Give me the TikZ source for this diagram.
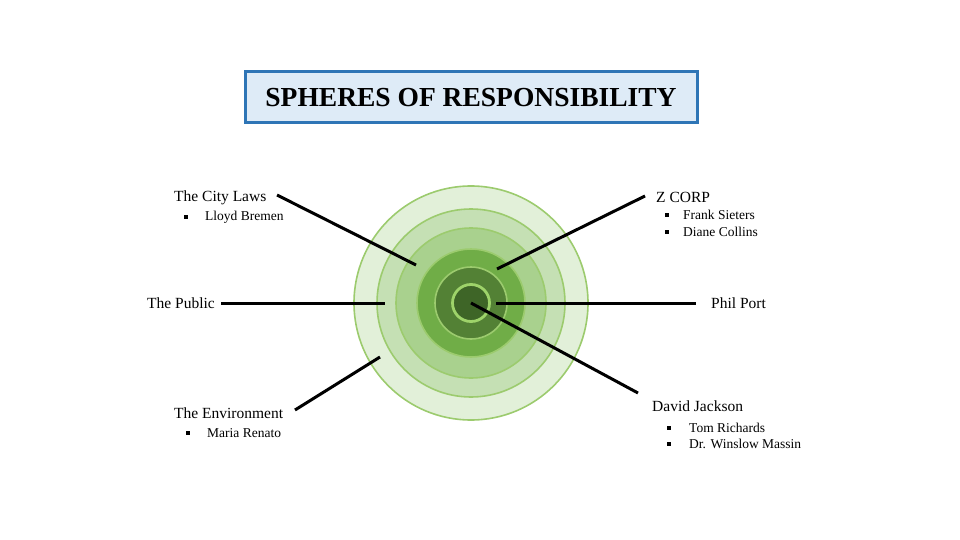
\documentclass[tikz,border=0pt]{standalone}
\usepackage{fontspec}
\setmainfont{Liberation Serif}
\definecolor{titleblue}{HTML}{2E75B6}
\definecolor{titlefill}{HTML}{DEEBF7}
\definecolor{gA}{HTML}{E2F0D9}
\definecolor{gB}{HTML}{C5E0B4}
\definecolor{gC}{HTML}{A9D18E}
\definecolor{gD}{HTML}{70AD47}
\definecolor{gE}{HTML}{538135}
\definecolor{gF}{HTML}{3E6527}
\definecolor{ringline}{HTML}{9CCB6E}
\definecolor{innerring}{HTML}{9ED36A}
\begin{document}
\begin{tikzpicture}[x=1pt,y=-1pt,
  label/.style={anchor=west,inner sep=0pt,font=\fontsize{15.5}{18}\selectfont},
  item/.style={anchor=west,inner sep=0pt,font=\fontsize{13.5}{16}\selectfont},
  connector/.style={draw=black,line width=3pt},
  ring/.style={draw=ringline,line width=1.6pt}]
\useasboundingbox (0,0) rectangle (960,540);
% title
\node[draw=titleblue,line width=3pt,fill=titlefill,minimum width=452pt,minimum height=51pt,inner sep=0pt,
  font=\fontsize{27.5}{30}\selectfont\bfseries] (title) at (471,97.5) {SPHERES OF RESPONSIBILITY};
% concentric circles
\coordinate (c) at (471,303);
\filldraw[ring,fill=gA] (c) circle (117);
\filldraw[ring,fill=gB] (c) circle (94);
\filldraw[ring,fill=gC] (c) circle (75);
\filldraw[ring,fill=gD] (c) circle (54);
\filldraw[ring,fill=gE] (c) circle (36);
\filldraw[draw=innerring,line width=2.8pt,fill=gF] (c) circle (18.5);
% labels
\node[label] (city) at (174,198) {The City Laws};
\node[item] (lloyd) at (205,217) {Lloyd Bremen};
\node[label] (public) at (147,303) {The Public};
\node[label] (env) at (174,413) {The Environment};
\node[item] (maria) at (207,433) {Maria Renato};
\node[label] (zcorp) at (656,197) {Z CORP};
\node[item] (frank) at (683,215) {Frank Sieters};
\node[item] (diane) at (683,232) {Diane Collins};
\node[label] (phil) at (711,303) {Phil Port};
\node[label] (david) at (652,406) {David Jackson};
\node[item] (tom) at (689,428) {Tom Richards};
\node[item] (winslow) at (689,444) {Dr. Winslow Massin};
% bullets
\foreach \bx/\by in {186/217,188/433,667/215,667/232,669/428,669/444}
  \fill (\bx-1.6,\by-1.6) rectangle (\bx+1.6,\by+1.6);
% connector ends
\coordinate (cityIn) at (416,265);
\coordinate (cityOut) at (277,195);
\coordinate (pubOut) at (221,303);
\coordinate (pubIn) at (385,303);
\coordinate (envOut) at (295,410);
\coordinate (envIn) at (380,357);
\coordinate (zIn) at (497,269);
\coordinate (zOut) at (645,196);
\coordinate (philIn) at (496,303);
\coordinate (philOut) at (696,303);
\coordinate (davOut) at (638,393);
% connectors
\draw[connector] (cityOut) -- (cityIn);
\draw[connector] (pubOut) -- (pubIn);
\draw[connector] (envOut) -- (envIn);
\draw[connector] (zIn) -- (zOut);
\draw[connector] (philIn) -- (philOut);
\draw[connector] (c) -- (davOut);
\end{tikzpicture}
\end{document}
